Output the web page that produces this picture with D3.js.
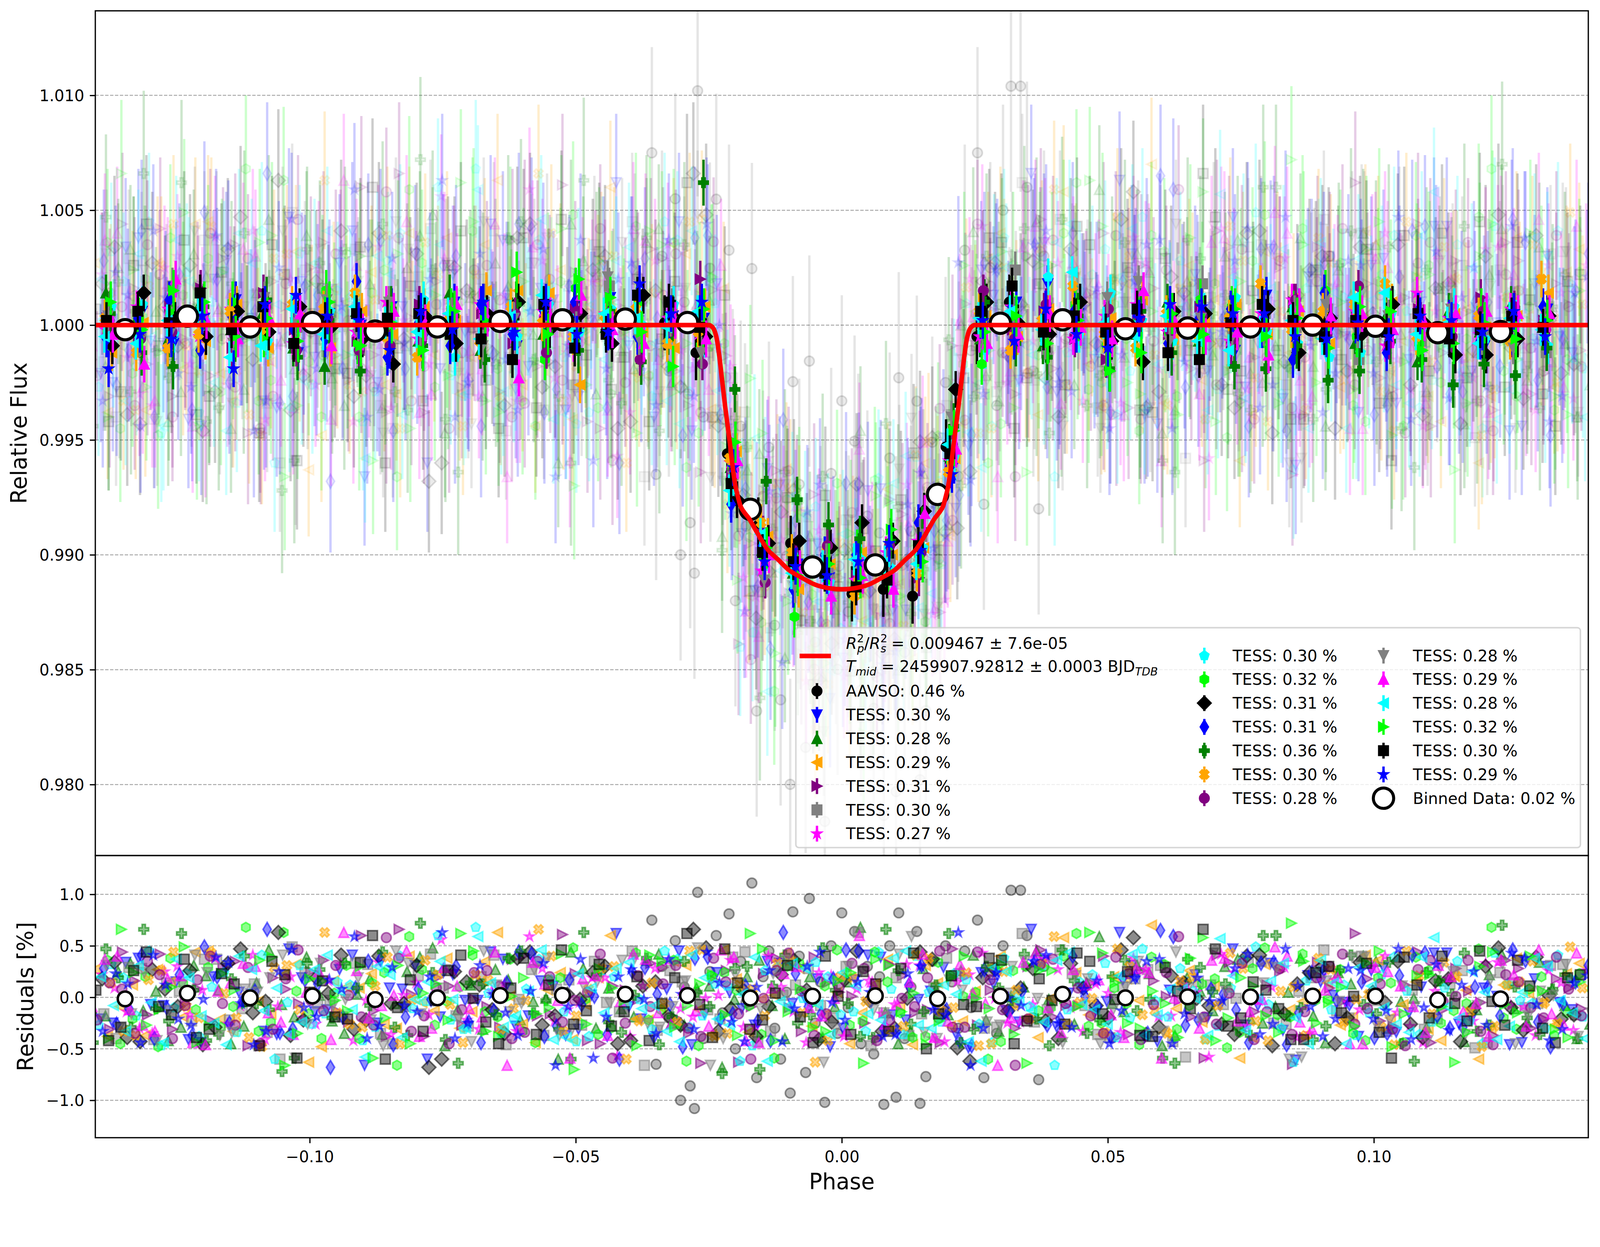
<!DOCTYPE html>
<html><head><meta charset="utf-8">
<script src="https://cdn.jsdelivr.net/npm/d3@7"></script>
<style>html,body{margin:0;padding:0;background:#fff;overflow:hidden}svg{display:block;width:100vw;height:100vh}text{font-family:"DejaVu Sans",sans-serif}</style>
</head><body><svg id="c" viewBox="0 0 4242 3192" preserveAspectRatio="xMidYMin meet"></svg>
<script>
// ---------------- DATA ----------------
const fluxTicks=[0.980,0.985,0.990,0.995,1.000,1.005,1.010];
const residTicks=[-1.0,-0.5,0.0,0.5,1.0];
const phaseTicks=[-0.10,-0.05,0.00,0.05,0.10];
const phaseRange=[-0.1403,0.1403];
const fluxRange=[0.97691,1.01368];
const residRange=[-1.363,1.377];

const rpRs2=0.009467, rpRs2Err="7.6e-05", tMid="2459907.92812", tMidErr="0.0003";

const seriesName=["AAVSO","TESS","TESS","TESS","TESS","TESS","TESS","TESS","TESS","TESS","TESS","TESS","TESS","TESS","TESS","TESS","TESS","TESS","TESS","TESS"];
const seriesSigma=[0.46,0.30,0.28,0.29,0.31,0.30,0.27,0.30,0.32,0.31,0.31,0.36,0.30,0.28,0.28,0.29,0.28,0.32,0.30,0.29];
const seriesColor=["black","blue","green","orange","purple","gray","magenta","cyan","lime","black","blue","green","orange","purple","gray","magenta","cyan","lime","black","blue"];
const seriesMarker=["o","v","^","<",">","s","*","p","h","D","d","P","X","o","v","^","<",">","s","*"];
const binnedLabel="Binned Data: 0.02 %";

// transit model (phase, relative flux)
const modelPhase=[-0.1403,-0.0250,-0.0245,-0.0240,-0.0235,-0.0230,-0.0225,-0.0220,-0.0215,-0.0210,-0.0205,-0.0200,-0.0195,-0.0190,-0.0185,-0.0175,-0.0160,-0.0140,-0.0120,-0.0100,-0.0075,-0.0050,-0.0025,0.0000,0.0025,0.0050,0.0075,0.0100,0.0120,0.0140,0.0160,0.0175,0.0185,0.0190,0.0195,0.0200,0.0205,0.0210,0.0215,0.0220,0.0225,0.0230,0.0235,0.0240,0.0245,0.0250,0.1403];
const modelFlux=[1.0,1.0,0.99995,0.9998,0.9994,0.9986,0.9976,0.9966,0.9957,0.9948,0.9938,0.9930,0.9925,0.9921,0.9919,0.9916,0.9910,0.99025,0.9898,0.98935,0.9890,0.9887,0.98855,0.9885,0.98855,0.9887,0.9890,0.98935,0.9898,0.99025,0.9910,0.9916,0.9919,0.9921,0.9925,0.9930,0.9938,0.9948,0.9957,0.9966,0.9976,0.9986,0.9994,0.9998,0.99995,1.0,1.0];

// overall binned data (white circles)
const binnedPhase=[-0.1347,-0.1230,-0.1112,-0.0995,-0.0877,-0.0760,-0.0642,-0.0525,-0.0407,-0.0290,-0.0172,-0.0055,0.0063,0.0180,0.0298,0.0415,0.0533,0.0650,0.0768,0.0885,0.1003,0.1120,0.1238];
const binnedFlux=[0.99980,1.00039,0.99992,1.00011,0.99974,0.99992,1.00016,1.00023,1.00026,1.00011,0.99198,0.98947,0.98956,0.99263,1.00008,1.00023,0.99984,0.99987,0.99992,1.00000,0.99995,0.99967,0.99972];
const binnedResid=[-0.015,0.040,-0.005,0.013,-0.022,-0.005,0.018,0.020,0.030,0.018,-0.007,0.011,0.015,-0.013,0.011,0.030,-0.005,0.005,0.005,0.012,0.012,-0.025,-0.015];

// per-dataset binned points: flux deviation from 1 in units of 0.01 %
const binPhase=[-0.1378,-0.1319,-0.1260,-0.1202,-0.1143,-0.1084,-0.1026,-0.0967,-0.0908,-0.0850,-0.0791,-0.0732,-0.0674,-0.0615,-0.0556,-0.0498,-0.0439,-0.0380,-0.0321,-0.0263,-0.0204,-0.0145,-0.0087,-0.0028,0.0031,0.0089,0.0148,0.0207,0.0265,0.0324,0.0383,0.0441,0.0500,0.0559,0.0617,0.0676,0.0735,0.0794,0.0852,0.0911,0.0970,0.1028,0.1087,0.1146,0.1204,0.1263,0.1322];
const binShift=[0.0004,-0.0005,0.0006,-0.0003,0.0002,-0.0006,0.0005,-0.0002,0.0007,-0.0004,0.0003,-0.0007,0.0001,-0.0001,0.0008,-0.0008,0.0004,-0.0004,0.0000];
const binErr=[12,8,8,8,8,8,7,8,9,8,8,10,8,7,7,8,7,9,8,8];
const aavsoBinPhase=[-0.0333,-0.0274,-0.0215,-0.0157,-0.0096,0.0019,0.0078,0.0133,0.0196,0.0254,0.0315];
const aavsoBinDev=[1,-12,-56,-87,-95,-117,-115,-118,-53,-5,10];
const binT01=[-4,6,-8,3,11,-2,-12,5,0,8,-6,10,2,-9,7,-3,12,-5,4,3,-58,-97,-104,-110,-107,-101,-93,-61,1,10,18,5,-7,9,-2,4,-11,13,6,-3,0,8,-5,3,-9,2,7];
const binT02=[14,3,-6,9,-2,5,-10,-18,6,1,-7,14,-11,4,-4,8,-1,6,-5,2,-62,-98,-108,-103,-112,-106,-96,-57,-6,3,-9,7,2,-4,10,-7,5,-2,8,0,-8,4,-16,6,-3,9,-1];
const binT03=[-12,1,4,-7,9,-10,3,-10,6,-4,8,2,15,15,14,-26,5,-3,-10,8,-55,-92,-115,-104,-99,-100,-97,-58,4,-5,7,-2,3,11,-6,1,9,-4,6,-8,2,10,-3,5,-1,4,14];
const binT04=[3,-5,8,16,-10,14,-2,6,-7,1,9,-4,5,-8,2,7,-3,4,2,20,-64,-91,-101,-106,-109,-104,-110,-63,5,-2,6,-6,-15,3,-4,8,-9,1,10,-5,4,-3,7,-1,12,-6,2];
const binT05=[6,-3,17,2,-6,9,-1,4,-11,7,-4,3,10,-7,5,-2,17,-5,8,1,-57,-96,-106,-108,-104,-102,-92,-55,4,24,-12,6,-3,9,2,18,-8,5,-1,7,-15,3,-7,4,-2,6,-12];
const binT06=[-2,8,7,-5,7,1,-8,3,-3,10,-6,4,9,-1,6,-9,5,2,3,-4,-60,-107,-103,-106,-111,-99,-94,-59,-5,8,2,-6,4,9,-3,1,-7,5,11,-2,6,-9,14,3,-4,7,-1];
const binT07=[8,9,-4,2,5,-7,3,6,-2,1,11,-14,4,-5,9,-3,7,0,9,-6,-59,-99,-107,-112,-102,-106,-97,-57,-11,3,21,-4,14,2,-7,6,12,-3,-8,-14,-12,5,-1,8,-6,3,-9];
const binT08=[-3,3,5,6,10,-5,2,15,-8,4,-3,7,-6,-2,-15,16,1,10,4,-9,-62,-101,-127,-104,-98,-108,-100,-60,-17,5,-6,9,-9,3,-4,11,8,-1,6,15,-5,2,-8,4,7,-3,1];
const binT09=[-9,14,2,-5,6,-3,8,-1,-6,-17,4,-8,5,10,-2,5,-8,13,3,-5,-76,-95,-94,-97,-86,-94,-81,-28,10,1,-4,10,-7,-16,6,5,-2,7,-12,3,-4,9,1,-13,-13,-6,4];
const binT10=[-6,3,11,-11,4,7,-2,-6,19,-14,1,-9,9,-4,6,10,-3,-5,2,5,-78,-96,-115,-100,-100,-105,-86,-62,2,8,-3,6,-1,4,-8,3,7,-2,-15,14,0,-12,6,3,-7,-5,8];
const binT11=[5,-12,-18,8,-6,11,-14,2,-20,7,-9,4,-15,9,-3,-11,6,-16,3,62,-28,-68,-76,-87,-93,-94,-89,-44,10,-8,-14,4,-19,6,-12,-5,-18,-19,-9,-24,-20,-7,-15,-26,-17,-22,-10];
const binT12=[3,-12,-10,-4,6,-2,9,7,14,-5,-14,2,-7,8,1,-5,4,7,-8,-3,-58,-86,-99,-104,-118,-103,-108,-64,6,-11,2,17,-4,-10,5,-6,3,18,-2,6,9,18,-5,1,4,-7,20];
const binT13=[2,-6,-3,5,-4,8,-11,3,-11,-9,-7,4,-2,5,-12,6,1,-15,2,-17,-63,-112,-103,-96,-107,-96,-99,-52,15,-6,9,1,7,3,-3,4,-6,-1,11,-4,17,-8,3,-5,6,8,-2];
const binT14=[4,-7,-3,6,-8,12,1,11,-4,10,-2,5,-9,3,7,-1,21,-6,2,-12,-66,-111,-114,-102,-106,-104,-91,-40,-4,5,-8,2,12,19,-7,3,-5,-2,6,9,-3,4,3,7,-6,-10,1];
const binT15=[-4,-17,20,2,-6,3,5,-9,-3,6,1,9,3,-23,4,13,-2,-8,2,-6,-59,-100,-106,-118,-109,-115,-82,-54,-8,-4,5,-1,-6,15,2,-5,-3,-13,8,4,5,-2,1,5,6,5,5];
const binT16=[-5,-8,2,6,-14,-9,7,-4,8,1,-3,5,-6,4,13,-2,5,3,-1,6,-72,-91,-108,-105,-102,-103,-104,-52,3,6,-2,23,1,-5,4,-7,-11,-3,2,-6,12,14,-4,1,-8,3,-2];
const binT17=[10,-2,15,10,-5,3,-7,10,-9,1,-11,6,2,23,-4,20,12,-3,-18,7,-51,-97,-109,-104,-110,-89,-103,-46,-3,4,-8,2,-20,-12,5,-4,7,-5,3,-10,8,6,-11,-8,1,-6,2];
const binT18=[2,6,1,14,-2,8,-8,2,5,3,5,-4,-6,-15,9,-10,-4,13,10,-1,-69,-99,-103,-108,-114,-111,-96,-56,6,17,-3,4,-3,7,-12,-15,1,9,2,-5,2,-3,5,-6,-2,4,-1];
const binT19=[-19,-4,-6,4,-19,9,13,4,2,-11,6,-2,10,-3,10,-4,-3,18,5,10,-62,-103,-105,-109,-103,-95,-98,-65,2,-7,7,-4,-10,3,9,8,5,5,-5,-6,1,-5,4,2,-3,6,-5];

// unbinned points: residuals from the model in units of 0.01 %
const faintPhase=[-0.1395,-0.1348,-0.1300,-0.1253,-0.1206,-0.1159,-0.1111,-0.1064,-0.1017,-0.0969,-0.0922,-0.0875,-0.0828,-0.0780,-0.0733,-0.0686,-0.0638,-0.0591,-0.0544,-0.0497,-0.0449,-0.0402,-0.0355,-0.0307,-0.0260,-0.0213,-0.0166,-0.0118,-0.0071,-0.0024,0.0024,0.0071,0.0118,0.0166,0.0213,0.0260,0.0307,0.0355,0.0402,0.0449,0.0497,0.0544,0.0591,0.0638,0.0686,0.0733,0.0780,0.0828,0.0875,0.0922,0.0969,0.1017,0.1064,0.1111,0.1159,0.1206,0.1253,0.1300,0.1348,0.1395];
const faintPhaseB=[-0.1371,-0.1324,-0.1277,-0.1229,-0.1182,-0.1135,-0.1088,-0.1040,-0.0993,-0.0946,-0.0898,-0.0851,-0.0804,-0.0757,-0.0709,-0.0662,-0.0615,-0.0567,-0.0520,-0.0473,-0.0426,-0.0378,-0.0331,-0.0284,-0.0236,-0.0189,-0.0142,-0.0095,-0.0047,0.0000,0.0047,0.0095,0.0142,0.0189,0.0236,0.0284,0.0331,0.0378,0.0426,0.0473,0.0520,0.0567,0.0615,0.0662,0.0709,0.0757,0.0804,0.0851,0.0898,0.0946,0.0993,0.1040,0.1088,0.1135,0.1182,0.1229,0.1277,0.1324,0.1371];
const faintShift=[-0.0022,0.0011,-0.0009,0.0019,-0.0016,0.0004,-0.0002,0.0015,-0.0019,0.0008,-0.0012,0.0021,-0.0005,0.0013,-0.0014,0.0002,0.0017,-0.0007,0.0006];
const resT01=[12,-25,38,-8,-41,20,5,-33,47,-14,27,-66,9,31,-19,-3,44,-28,16,-37,2,62,-21,8,-46,24,-11,35,-6,18,-30,41,-17,-2,29,-49,13,-24,36,4,-15,63,-39,7,22,-8,-27,33,-61,15,-5,26,-34,10,43,-20,1,-44,30,-12];
const resT02=[-18,33,6,-29,21,-45,14,-7,39,-23,3,-36,25,48,-12,-31,17,-4,-60,28,9,-19,42,-27,11,-2,36,-40,20,-9,68,-15,-33,8,26,-22,1,45,-38,14,-6,31,-47,19,-13,37,-25,5,-18,24,40,-30,-1,16,-43,22,-11,34,-8,-26];
const resT03=[27,-9,-37,15,44,-21,3,-16,32,-48,10,23,-30,-5,38,-14,63,-26,7,-41,19,-3,-22,35,-12,46,-34,2,28,-17,-45,13,-8,31,-28,6,40,-20,-1,24,-36,18,70,-11,-24,9,-39,29,-4,14,-19,36,-7,-31,21,-60,12,4,-27,33];
const resT04=[-31,16,42,-6,-22,35,-47,8,25,-13,60,-38,3,19,-27,-9,37,-18,61,-42,11,-2,29,-35,17,-63,23,-10,39,5,-25,32,-15,-44,20,7,-30,46,-8,14,-39,26,1,-19,41,-33,12,-65,34,-4,18,-28,44,-12,6,-37,28,-21,9,48];
const resT05=[5,-40,28,14,-23,37,-11,-34,49,-6,-19,32,-45,21,9,-28,41,-2,-37,17,35,-14,-66,26,3,-21,44,-33,12,-8,30,-47,19,-16,38,-4,-29,62,-12,23,-36,10,27,-43,15,-7,34,-25,6,46,-20,-3,39,-31,13,-49,24,-10,31,-17];
const resT06=[22,-14,-35,30,7,-26,41,-9,-20,16,-42,34,2,-17,25,-31,13,59,-23,-5,19,-38,28,-11,-1,36,-29,10,-44,21,8,-16,32,-40,15,43,-25,-7,27,-33,4,38,-19,12,-58,24,-3,29,-35,17,-12,40,-28,6,-21,33,-8,-37,14,26];
const resT07=[-27,19,45,-10,-38,24,3,-60,31,-16,12,-29,40,-4,-22,68,-35,8,17,-43,26,-7,-31,37,-18,11,-47,29,-1,20,-14,44,-36,5,23,-26,38,-9,-66,15,33,-20,-3,28,-41,9,49,-30,16,-12,-37,22,6,-24,35,-45,13,-6,41,-19];
const resT08=[36,-21,-48,13,29,-9,-33,63,-16,4,-40,24,59,-27,10,-14,37,-44,19,-2,-30,43,-12,-62,21,7,-36,30,-5,46,-23,15,-39,34,1,-60,26,-13,40,-28,9,-46,32,-8,18,-34,48,-19,-3,27,-42,14,39,-25,-6,68,-31,20,-15,8];
const resT09=[-15,34,-43,8,26,-29,47,-4,-37,19,41,-22,-6,31,-60,15,-12,38,-27,3,24,-45,11,-18,66,-33,7,-9,36,-41,17,-3,-30,44,-14,-62,27,9,-23,33,-8,46,-36,21,-1,-26,40,-47,13,30,-20,5,35,-39,18,-11,48,-32,2,-17];
const resT10=[28,-11,-40,22,49,-25,6,-34,17,-68,9,37,-19,-2,30,-44,14,42,-28,-7,-36,25,3,-48,39,-16,-23,63,-9,18,45,-31,12,-5,-42,27,-14,35,-21,1,-38,20,65,-27,8,-12,33,-46,24,-3,15,-35,41,-18,-29,10,46,-24,-6,31];
const resT11=[-44,19,66,-23,7,-36,40,-12,-59,27,33,-8,-29,72,-41,14,-17,45,-3,-60,22,-34,38,-19,5,-74,30,11,-25,48,-6,-39,26,-14,62,-31,9,42,-47,16,-22,36,-2,-64,29,13,-37,60,-10,-28,41,-16,-45,24,3,-33,70,-20,8,-40];
const resT12=[14,-37,26,-9,43,-20,-48,31,5,-15,-29,39,-2,22,-44,17,-11,66,-33,8,30,-23,-6,45,-38,12,-18,36,-63,20,-4,-32,41,-13,24,-45,7,33,-26,-1,47,-17,-35,19,-8,28,-42,10,38,-24,3,-46,21,34,-14,-28,15,-5,49,-36];
const resT13=[-22,8,35,-40,17,-6,29,-31,46,-13,2,-27,38,-18,-45,24,11,-34,20,-3,42,-25,-9,31,-38,15,-60,26,6,-16,33,-42,-1,19,-29,44,-12,-21,37,9,-35,23,-7,59,-19,4,-41,28,-14,30,-26,13,-47,36,1,-33,22,-10,39,-18];
const resT14=[31,-16,-42,12,24,-34,5,41,-26,-8,19,-47,33,-3,-21,45,-14,27,-37,10,-6,38,-29,16,-66,22,-11,36,2,-31,26,-19,59,-40,7,-24,30,-1,-44,18,-12,35,-33,9,43,-27,14,-60,23,-4,39,-22,-9,28,-36,17,-45,6,32,-15];
const resT15=[-9,40,-27,18,-44,6,33,-15,-36,25,63,-20,2,-38,29,-11,44,-31,13,-59,21,-4,37,-26,-13,46,-42,9,30,-18,-33,15,-7,42,-23,4,-66,34,-10,27,17,-39,24,-1,-30,38,-14,49,-24,7,-45,29,11,-34,20,-6,36,-28,-16,43];
const resT16=[20,-33,-5,37,-18,-46,27,9,-24,41,-12,30,-39,15,-2,59,-29,6,-41,23,-15,34,-8,-43,19,-27,39,-4,28,-36,11,-22,45,-30,3,-62,25,-13,36,-7,-26,42,-17,8,-37,21,-1,33,-45,14,29,-10,-34,58,-20,5,-28,38,-3,-40];
const resT17=[-40,24,-12,49,-28,7,36,-66,18,-3,30,-20,-45,13,62,-33,1,-16,42,-26,9,-47,35,-8,22,-37,47,-14,-29,16,-64,31,4,-23,40,-11,-36,26,-1,63,14,-30,-6,38,-42,19,-18,72,-25,10,33,-48,21,-9,-34,44,-15,6,-39,28];
const resT18=[7,-29,44,-17,-39,23,-4,35,-59,16,-21,60,-10,-33,26,-1,-45,38,12,-26,32,-14,-42,19,-7,47,-31,4,-19,40,-36,13,28,-50,21,-9,36,-23,-3,43,-16,25,-38,6,66,-28,15,-11,-41,30,1,-34,39,-20,-6,45,-27,11,-44,22];
const resT19=[-33,13,41,-21,-2,34,-46,25,-10,17,59,-28,-8,20,-40,31,-15,6,-66,37,-19,27,-35,3,44,-24,10,-43,30,-5,15,-38,23,-12,63,-30,-1,35,-25,8,-45,19,37,-16,-4,28,-36,47,-9,-21,26,-13,-41,32,12,-27,43,-7,-31,21];
const resU01=[-21,34,-7,15,-44,28,3,-36,19,-12,41,-25,8,-60,22,-3,37,-18,11,-31,26,-9,-40,45,-16,5,-27,33,-1,-48,17,39,-22,6,-35,24,-13,66,-29,10,-4,31,-43,14,-20,47,-8,-32,21,2,-38,29,-15,43,-26,9,-46,18,-5];
const resU02=[25,-13,-42,31,7,-28,46,-19,2,-35,18,-6,39,-47,12,27,-22,-1,44,-30,-11,36,-25,9,-68,20,-8,33,-39,15,4,-45,28,-17,41,-33,10,-2,-26,59,-14,23,-37,6,30,-21,-9,38,-44,13,35,-4,-29,19,-12,42,-24,8,-40];
const resU03=[-38,12,27,-19,45,-33,-4,22,-63,16,9,-26,40,-13,-30,35,1,-44,24,-7,60,-21,-10,31,-36,18,-2,43,-28,5,-15,37,-46,14,-23,29,-8,-39,58,-17,20,-3,-34,26,11,-59,32,-12,3,-27,41,-20,15,-42,7,-31,38,-6,23];
const resU04=[44,-17,-31,8,29,-47,19,-6,36,-24,-13,66,-38,11,-2,-29,41,-16,23,-45,7,33,-20,-64,26,-9,38,-33,14,1,-41,21,-12,47,-27,5,30,-19,-8,40,-36,16,-3,-59,34,-14,25,-39,9,62,-23,12,-44,28,-5,36,-30,18,-11];
const resU05=[-16,29,-41,6,37,-22,13,-60,24,-3,33,-35,-9,42,-18,20,-46,27,8,-27,-5,45,-32,15,-12,39,-43,2,28,-20,63,-15,-37,10,23,-30,4,-24,46,-8,-39,18,31,-58,12,-1,35,-26,19,-13,40,-33,7,-21,26,-44,14,-6,32];
const resU06=[9,-30,25,-17,38,-8,-41,20,-26,32,-3,-36,14,56,-22,6,-33,28,-12,19,-57,11,35,-19,2,-29,40,-14,24,-38,16,-7,31,-43,22,-1,-24,37,-10,13,-34,27,-18,5,42,-28,10,-39,21,-5,30,-15,-44,18,-23,34,-9,26,-32];
const resU07=[32,-18,-47,23,10,-34,41,-5,-26,15,-42,28,-11,60,-31,4,-21,37,-14,-38,20,-2,45,-29,13,-62,26,-9,34,-17,-33,8,40,-24,17,-44,3,30,-12,22,-39,47,-19,6,-28,36,-7,-63,25,12,-15,39,-36,9,-23,43,-3,-30,18];
const resU08=[-45,20,38,-12,-29,68,-24,6,-40,31,14,-66,27,-4,41,-19,-33,17,48,-36,2,-22,36,-47,24,-8,-59,33,11,-27,44,-15,-38,21,5,-43,30,-10,62,-25,-6,39,-31,13,-49,28,-17,42,-2,-35,19,-44,26,-13,47,-20,8,-37,23];
const resU09=[18,-39,27,-9,-46,33,-15,63,-22,4,-31,40,-6,-68,25,12,-35,44,-18,-2,30,-42,15,-27,48,-11,-38,22,7,-24,45,-33,-1,37,-49,19,-13,28,-40,9,-20,58,-29,14,-8,-36,41,-16,24,-45,34,-5,-26,16,-43,30,-10,39,-21];
const resU10=[-26,41,-10,-37,20,-4,66,-31,13,-19,35,-46,8,26,-24,-13,44,-38,17,1,-60,29,-7,38,-21,11,-42,23,-16,46,-3,-33,31,-12,-47,24,6,-27,40,-9,19,-35,59,-22,3,-44,34,-15,27,-6,-39,21,43,-30,10,-18,36,-48,15];
const resU11=[47,-29,-11,62,-42,18,-6,-72,33,-20,9,44,-37,24,-64,13,38,-15,-31,63,-24,2,-46,35,-9,28,-70,41,-17,7,-38,66,-26,12,-44,30,-3,-21,46,-35,20,-13,-59,37,5,-30,60,-18,-41,26,-7,34,-62,16,43,-27,10,-36,22];
const resU12=[-33,17,44,-20,4,-39,29,-12,63,-26,11,-45,36,-7,22,-31,-3,40,-18,28,-60,14,-24,46,-35,8,33,-15,-42,19,1,-28,38,-10,-47,25,-21,59,-5,-34,30,-13,16,-41,43,-23,6,-37,27,-2,-29,45,-16,20,-48,12,35,-25,9];
const resU13=[14,-35,22,-8,40,-27,-45,18,-3,31,-19,58,-33,9,-12,26,-40,35,-24,5,-59,21,13,-30,38,-16,-1,43,-37,10,28,-22,-9,45,-29,17,-66,32,-6,-18,39,-41,24,2,-26,33,-14,-36,19,42,-11,-31,27,-4,36,-46,15,-20,8];
const resU14=[-30,24,-13,41,-37,8,19,-59,33,-2,-22,45,-16,27,-43,12,-6,38,-31,15,36,-25,-9,48,-40,3,23,-19,-63,30,-12,42,-34,17,-4,-27,35,-14,21,-45,10,-36,44,-21,6,-3,29,-58,16,39,-28,11,-42,25,-8,33,-18,2,-38];
const resU15=[37,-12,-33,21,-46,14,30,-24,5,-41,26,-8,45,-30,11,-19,-66,34,-3,18,-37,42,-15,7,-28,39,-44,23,-10,-1,60,-26,15,-39,32,-6,-20,43,-34,12,-17,28,-59,9,36,-23,-2,40,-31,19,-45,25,-9,31,-14,-38,22,46,-27];
const resU16=[-8,31,-44,19,-25,40,-13,-36,27,6,-58,22,-2,35,-30,14,-18,46,-39,9,28,-11,-33,41,-21,3,-62,33,-7,24,-16,38,-27,12,-43,29,-4,-24,44,-12,21,-37,8,-1,57,-32,16,-20,36,-45,11,-26,39,-9,25,-41,5,30,-15];
const resU17=[66,-27,10,-44,23,-6,39,-35,16,-13,-59,31,4,-22,45,-38,19,-10,-70,28,-3,41,-29,13,-17,62,-42,8,-33,24,37,-14,-46,20,-1,32,-64,26,-9,43,-25,6,-39,58,-20,11,-34,35,-5,-28,45,-16,22,-63,30,-7,40,-31,15];
const resU18=[-42,26,-9,37,-31,13,-47,22,5,-19,34,-60,17,-3,41,-24,9,-36,46,-13,-28,20,-6,62,-39,14,-22,31,-44,1,25,-33,43,-16,-7,38,-45,18,-26,35,-2,-37,29,-11,47,-20,7,-41,24,-15,33,-59,12,40,-23,-4,36,-30,19];
const resU19=[23,-44,12,-27,39,-6,-33,46,-19,8,-40,29,-14,63,-25,3,-37,33,-9,-59,20,-2,37,-31,14,-43,26,-11,44,-22,5,-36,30,-17,-66,24,-8,41,-29,16,-13,35,-45,19,-3,42,-26,11,-38,28,-21,47,-10,-32,25,-5,38,-42,14];
const aavsoPhase=[-0.0357,-0.0349,-0.0338,-0.0325,-0.0313,-0.0303,-0.0296,-0.0285,-0.0277,-0.0271,-0.0260,-0.0248,-0.0236,-0.0224,-0.0212,-0.0200,-0.0190,-0.0180,-0.0169,-0.0160,-0.0148,-0.0137,-0.0126,-0.0115,-0.0104,-0.0097,-0.0092,-0.0080,-0.0068,-0.0061,-0.0050,-0.0040,-0.0032,-0.0020,-0.0008,0.0000,0.0012,0.0024,0.0036,0.0048,0.0060,0.0071,0.0079,0.0090,0.0102,0.0107,0.0118,0.0130,0.0141,0.0147,0.0158,0.0170,0.0182,0.0195,0.0207,0.0219,0.0231,0.0243,0.0255,0.0267,0.0279,0.0291,0.0303,0.0318,0.0327,0.0336,0.0348,0.0360,0.0370,0.0380];
const aavsoResid=[75,-65,30,-20,55,-100,10,-86,-108,102,-40,25,60,-15,81,-50,35,-5,111,-78,20,45,-30,-60,5,-93,83,40,-73,96,-25,15,-102,50,-35,82,-10,64,-45,30,-55,20,-104,50,-97,82,-40,10,64,-103,-77,35,-20,50,15,-30,45,-10,75,-78,25,-35,50,104,-5,104,60,-20,-80,30];

// ---------------- LAYOUT / STYLE ----------------
const PX=300/72;             // points -> px at 300 dpi
const L=252.7,R=4211,T=28.7,MID=2268,B=3016;
const FS=10*PX, LFS=14*PX;
const svg=d3.select("#c");
const x=d3.scaleLinear().domain(phaseRange).range([L,R]);
const yF=d3.scaleLinear().domain(fluxRange).range([MID,T]);
const yR=d3.scaleLinear().domain(residRange).range([B,MID]);
const model=d3.scaleLinear().domain(modelPhase).range(modelFlux).clamp(true);

const tessRes=[resT01,resT02,resT03,resT04,resT05,resT06,resT07,resT08,resT09,resT10,resT11,resT12,resT13,resT14,resT15,resT16,resT17,resT18,resT19];
const tessResB=[resU01,resU02,resU03,resU04,resU05,resU06,resU07,resU08,resU09,resU10,resU11,resU12,resU13,resU14,resU15,resU16,resU17,resU18,resU19];
const tessBin=[binT01,binT02,binT03,binT04,binT05,binT06,binT07,binT08,binT09,binT10,binT11,binT12,binT13,binT14,binT15,binT16,binT17,binT18,binT19];

// marker shapes (matplotlib-like), s = marker size in px
function poly(p){return "M"+p.map(q=>q[0].toFixed(2)+","+q[1].toFixed(2)).join("L")+"Z";}
function reg(n,r){const p=[];for(let i=0;i<n;i++){const a=-Math.PI/2+2*Math.PI*i/n;p.push([r*Math.cos(a),r*Math.sin(a)]);}return p;}
const plusPts=[[-1,-3],[1,-3],[1,-1],[3,-1],[3,1],[1,1],[1,3],[-1,3],[-1,1],[-3,1],[-3,-1],[-1,-1]];
function markerPath(m,s){
  const h=s/2;
  switch(m){
    case "o": return `M${h},0A${h},${h} 0 1,1 ${-h},0A${h},${h} 0 1,1 ${h},0Z`;
    case "s": return poly([[-h,-h],[h,-h],[h,h],[-h,h]]);
    case "^": return poly([[0,-h],[h,h],[-h,h]]);
    case "v": return poly([[0,h],[h,-h],[-h,-h]]);
    case "<": return poly([[-h,0],[h,-h],[h,h]]);
    case ">": return poly([[h,0],[-h,-h],[-h,h]]);
    case "p": return poly(reg(5,h));
    case "h": return poly(reg(6,h));
    case "*": {const p=[];for(let i=0;i<10;i++){const r=i%2?h*0.381966:h;const a=-Math.PI/2+Math.PI*i/5;p.push([r*Math.cos(a),r*Math.sin(a)]);}return poly(p);}
    case "D": {const d=s*0.7071;return poly([[0,-d],[d,0],[0,d],[-d,0]]);}
    case "d": {const d=s*0.7071;return poly([[0,-d],[d*0.6,0],[0,d],[-d*0.6,0]]);}
    case "P": return poly(plusPts.map(q=>[q[0]*s/6,q[1]*s/6]));
    case "X": {const c=Math.SQRT1_2;return poly(plusPts.map(q=>[(q[0]-q[1])*c*s/6,(q[0]+q[1])*c*s/6]));}
  }
}

// clip paths
const defs=svg.append("defs");
defs.append("clipPath").attr("id","clipTop").append("rect").attr("x",L).attr("y",T).attr("width",R-L).attr("height",MID-T);
defs.append("clipPath").attr("id","clipBot").append("rect").attr("x",L).attr("y",MID).attr("width",R-L).attr("height",B-MID);

// grid
function grid(g,ticks,y){
  g.selectAll(null).data(ticks).join("line").attr("x1",L).attr("x2",R).attr("y1",d=>y(d)).attr("y2",d=>y(d))
   .attr("stroke","#aaaaaa").attr("stroke-width",2.6).attr("stroke-dasharray","9,4");
}
grid(svg.append("g"),fluxTicks,yF);
grid(svg.append("g"),residTicks,yR);

// assemble unbinned points
const faint=[];
aavsoPhase.forEach((p,i)=>faint.push({d:0,p:p,r:aavsoResid[i]/100}));
tessRes.forEach((arr,j)=>arr.forEach((r,i)=>{if(i<faintPhase.length)faint.push({d:j+1,p:faintPhase[i]+faintShift[j],r:r/100});}));
tessResB.forEach((arr,j)=>arr.forEach((r,i)=>{if(i<faintPhaseB.length)faint.push({d:j+1,p:faintPhaseB[i]+faintShift[j],r:r/100});}));
faint.forEach(o=>{o.f=model(o.p)+o.r/100;o.e=seriesSigma[o.d]/100;});

const MS=25, FMS=26, EW=PX, BW=1.5*PX;
// top panel: unbinned with error bars
const gTop=svg.append("g").attr("clip-path","url(#clipTop)");
for(let d=0;d<20;d++){
  const pts=faint.filter(o=>o.d===d);
  const a=d===0?0.1:0.2;
  const g=gTop.append("g");
  g.selectAll(null).data(pts).join("line")
   .attr("x1",o=>x(o.p)).attr("x2",o=>x(o.p)).attr("y1",o=>yF(o.f-o.e)).attr("y2",o=>yF(o.f+o.e))
   .attr("stroke",seriesColor[d]).attr("stroke-opacity",a).attr("stroke-width",BW);
  g.selectAll(null).data(pts).join("path").attr("d",markerPath(seriesMarker[d],FMS))
   .attr("transform",o=>`translate(${x(o.p).toFixed(1)},${yF(o.f).toFixed(1)})`)
   .attr("fill",seriesColor[d]).attr("fill-opacity",0.08).attr("stroke",seriesColor[d]).attr("stroke-opacity",0.13).attr("stroke-width",EW);
}
// top panel: binned per dataset
const solids=[];
aavsoBinPhase.forEach((p,i)=>solids.push({d:0,p:p,f:1+aavsoBinDev[i]/10000,e:binErr[0]/10000}));
tessBin.forEach((arr,j)=>arr.forEach((v,k)=>solids.push({d:j+1,p:binPhase[k]+binShift[j],f:1+v/10000,e:binErr[j+1]/10000})));
for(let d=0;d<20;d++){
  const pts=solids.filter(o=>o.d===d);
  const g=gTop.append("g");
  g.selectAll(null).data(pts).join("line")
   .attr("x1",o=>x(o.p)).attr("x2",o=>x(o.p)).attr("y1",o=>yF(o.f-o.e)).attr("y2",o=>yF(o.f+o.e))
   .attr("stroke",seriesColor[d]).attr("stroke-width",BW);
  g.selectAll(null).data(pts).join("path").attr("d",markerPath(seriesMarker[d],MS))
   .attr("transform",o=>`translate(${x(o.p).toFixed(1)},${yF(o.f).toFixed(1)})`)
   .attr("fill",seriesColor[d]).attr("stroke",seriesColor[d]).attr("stroke-width",EW);
}
// binned white circles
gTop.selectAll(null).data(binnedPhase).join("circle")
  .attr("cx",p=>x(p)).attr("cy",(p,i)=>yF(binnedFlux[i])).attr("r",27)
  .attr("fill","white").attr("stroke","black").attr("stroke-width",8);
// model
gTop.append("path").datum(modelPhase.map((p,i)=>[p,modelFlux[i]]))
  .attr("d",d3.line().x(d=>x(d[0])).y(d=>yF(d[1])).curve(d3.curveMonotoneX))
  .attr("fill","none").attr("stroke","red").attr("stroke-width",12).attr("stroke-linejoin","round");

// bottom panel: residuals
const gBot=svg.append("g").attr("clip-path","url(#clipBot)");
for(let d=0;d<20;d++){
  const pts=faint.filter(o=>o.d===d);
  const fa=d===0?0.28:0.45, sa=d===0?0.4:0.55;
  gBot.append("g").selectAll(null).data(pts).join("path").attr("d",markerPath(seriesMarker[d],FMS))
   .attr("transform",o=>`translate(${x(o.p).toFixed(1)},${yR(o.r).toFixed(1)})`)
   .attr("fill",seriesColor[d]).attr("fill-opacity",fa).attr("stroke",seriesColor[d]).attr("stroke-opacity",sa).attr("stroke-width",EW);
}
gBot.selectAll(null).data(binnedPhase).join("circle")
  .attr("cx",p=>x(p)).attr("cy",(p,i)=>yR(binnedResid[i])).attr("r",19.5)
  .attr("fill","white").attr("stroke","black").attr("stroke-width",6.5);

// frames
[[T,MID],[MID,B]].forEach(([a,b])=>svg.append("rect").attr("x",L).attr("y",a).attr("width",R-L).attr("height",b-a)
  .attr("fill","none").attr("stroke","black").attr("stroke-width",0.8*PX));

// axes
function styleAxis(g){
  g.attr("font-size",FS).attr("font-family","DejaVu Sans");
  g.select(".domain").remove();
  g.selectAll(".tick line").attr("stroke","#000").attr("stroke-width",0.8*PX);
  g.selectAll(".tick text").attr("fill","#000");
}
const ax1=svg.append("g").attr("transform",`translate(${L},0)`)
  .call(d3.axisLeft(yF).tickValues(fluxTicks).tickFormat(d3.format(".3f")).tickSize(3.5*PX).tickPadding(3.5*PX));
styleAxis(ax1); ax1.selectAll(".tick text").attr("dy","0.36em");
const ax2=svg.append("g").attr("transform",`translate(${L},0)`)
  .call(d3.axisLeft(yR).tickValues(residTicks).tickFormat(d3.format(".1f")).tickSize(3.5*PX).tickPadding(3.5*PX));
styleAxis(ax2); ax2.selectAll(".tick text").attr("dy","0.36em");
const ax3=svg.append("g").attr("transform",`translate(0,${B})`)
  .call(d3.axisBottom(x).tickValues(phaseTicks).tickFormat(d3.format(".2f")).tickSize(3.5*PX).tickPadding(3.5*PX));
styleAxis(ax3); ax3.selectAll(".tick text").attr("dy","0.86em");

// axis labels
svg.append("text").attr("transform",`translate(70,${(T+MID)/2}) rotate(-90)`).attr("text-anchor","middle").attr("font-size",LFS).text("Relative Flux");
svg.append("text").attr("transform",`translate(88,${(MID+B)/2}) rotate(-90)`).attr("text-anchor","middle").attr("font-size",LFS).text("Residuals [%]");
svg.append("text").attr("x",(L+R)/2).attr("y",3152).attr("text-anchor","middle").attr("font-size",LFS).text("Phase");

// legend
const lg=svg.append("g");
lg.append("rect").attr("x",2110).attr("y",1664).attr("width",2080).attr("height",583).attr("rx",8)
  .attr("fill","white").attr("fill-opacity",0.8).attr("stroke","#cccccc").attr("stroke-opacity",0.8).attr("stroke-width",4);
lg.append("line").attr("x1",2120).attr("x2",2203).attr("y1",1739).attr("y2",1739).attr("stroke","red").attr("stroke-width",12);
const SFS=FS*0.7;
const t1=lg.append("text").attr("x",2243).attr("y",1720).attr("font-size",FS);
t1.append("tspan").attr("font-style","italic").text("R");
t1.append("tspan").attr("font-size",SFS).attr("dy",-17).text("2");
t1.append("tspan").attr("font-size",SFS).attr("font-style","italic").attr("dx",-18).attr("dy",27).text("p");
t1.append("tspan").attr("dy",-10).text("/");
t1.append("tspan").attr("font-style","italic").text("R");
t1.append("tspan").attr("font-size",SFS).attr("dy",-17).text("2");
t1.append("tspan").attr("font-size",SFS).attr("font-style","italic").attr("dx",-18).attr("dy",27).text("s");
t1.append("tspan").attr("dy",-10).text(` = ${rpRs2} ± ${rpRs2Err}`);
const t2=lg.append("text").attr("x",2243).attr("y",1781).attr("font-size",FS);
t2.append("tspan").attr("font-style","italic").text("T");
t2.append("tspan").attr("font-size",SFS).attr("font-style","italic").attr("dy",10).text("mid");
t2.append("tspan").attr("dy",-10).text(` = ${tMid} ± ${tMidErr} BJD`);
t2.append("tspan").attr("font-size",SFS).attr("font-style","italic").attr("dy",10).text("TDB");

const entries=[];
for(let d=0;d<20;d++) entries.push({d:d,label:`${seriesName[d]}: ${seriesSigma[d].toFixed(2)} %`});
entries.push({d:-1,label:binnedLabel});
const colX=[[2166,2243],[3193,3268],[3668,3746]];
entries.forEach((e,i)=>{
  let col,cy;
  if(i<7){col=0;cy=1832+63*i;} else if(i<14){col=1;cy=1738+63*(i-7);} else {col=2;cy=1738+63*(i-14);}
  const hx=colX[col][0], tx=colX[col][1];
  if(e.d>=0){
    lg.append("line").attr("x1",hx).attr("x2",hx).attr("y1",cy-21).attr("y2",cy+21).attr("stroke",seriesColor[e.d]).attr("stroke-width",BW);
    lg.append("path").attr("d",markerPath(seriesMarker[e.d],MS)).attr("transform",`translate(${hx},${cy})`)
      .attr("fill",seriesColor[e.d]).attr("stroke",seriesColor[e.d]).attr("stroke-width",EW);
  } else {
    lg.append("circle").attr("cx",hx).attr("cy",cy).attr("r",27).attr("fill","white").attr("stroke","black").attr("stroke-width",8);
  }
  lg.append("text").attr("x",tx).attr("y",cy+15).attr("font-size",FS).text(e.label);
});
</script></body></html>
